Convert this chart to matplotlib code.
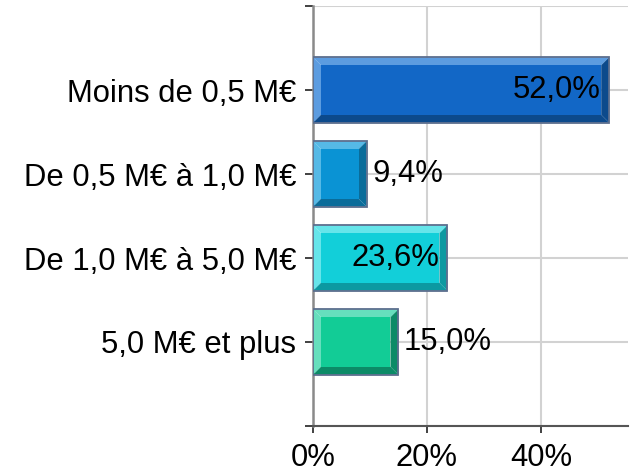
import matplotlib
matplotlib.use("Agg")
import matplotlib.pyplot as plt
from matplotlib.patches import Polygon, Rectangle

# Répartition par tranche de chiffre d'affaires
categories = ["Moins de 0,5 M€", "De 0,5 M€ à 1,0 M€", "De 1,0 M€ à 5,0 M€", "5,0 M€ et plus"]
values = [52.0, 9.4, 23.6, 15.0]
value_labels = ["52,0%", "9,4%", "23,6%", "15,0%"]
x_ticks = [0, 20, 40]
x_tick_labels = ["0%", "20%", "40%"]

face_colors = ["#1267c6", "#0a93d4", "#12cfd9", "#12cc96"]
light_colors = ["#5c9ce0", "#56b9e6", "#66e5ea", "#66dfbd"]
dark_colors = ["#0c4a8c", "#0a6c9a", "#0c99a1", "#0c8b67"]
edge_color = "#5c6e8e"

plt.rcParams["font.family"] = ["Liberation Sans", "DejaVu Sans"]
FS = 22.3

fig = plt.figure(figsize=(6.41, 4.72), dpi=100)
ax = fig.add_axes([313 / 641, 46 / 472, 315 / 641, 420 / 472])

ax.set_xlim(0, 55.3)
ax.set_ylim(4, -1)

# bevel size in pixels converted to data units
ax_w_px = 315.0
ax_h_px = 420.0
bev = 8.0
bx = bev * (55.3 / ax_w_px)
by = bev * (5.0 / ax_h_px)

bar_h = 0.78
for i, (v, fc, lc, dc) in enumerate(zip(values, face_colors, light_colors, dark_colors)):
    y0 = i - bar_h / 2
    y1 = i + bar_h / 2
    x0, x1 = 0.0, v
    # light top and left faces
    ax.add_patch(Polygon([(x0, y0), (x1, y0), (x1 - bx, y0 + by), (x0 + bx, y0 + by)],
                         closed=True, facecolor=lc, edgecolor="none", zorder=3))
    ax.add_patch(Polygon([(x0, y0), (x0 + bx, y0 + by), (x0 + bx, y1 - by), (x0, y1)],
                         closed=True, facecolor=lc, edgecolor="none", zorder=3))
    # dark bottom and right faces
    ax.add_patch(Polygon([(x0, y1), (x0 + bx, y1 - by), (x1 - bx, y1 - by), (x1, y1)],
                         closed=True, facecolor=dc, edgecolor="none", zorder=3))
    ax.add_patch(Polygon([(x1, y0), (x1, y1), (x1 - bx, y1 - by), (x1 - bx, y0 + by)],
                         closed=True, facecolor=dc, edgecolor="none", zorder=3))
    # front face
    ax.add_patch(Rectangle((x0 + bx, y0 + by), v - 2 * bx, bar_h - 2 * by,
                           facecolor=fc, edgecolor="none", zorder=3))
    # outline
    ax.add_patch(Rectangle((x0, y0), v, bar_h, facecolor="none",
                           edgecolor=edge_color, linewidth=1.3, zorder=4))

    if v > 20:
        ax.annotate(value_labels[i], xy=(v, i), xytext=(-6, 0), textcoords="offset points",
                    ha="right", va="center", fontsize=FS, color="black", zorder=5)
    else:
        ax.annotate(value_labels[i], xy=(v, i), xytext=(4, 0), textcoords="offset points",
                    ha="left", va="center", fontsize=FS, color="black", zorder=5)

ax.set_yticks(range(-1, 5))
ax.set_yticklabels([""] + categories + [""], fontsize=FS)
ax.set_xticks(x_ticks)
ax.set_xticklabels(x_tick_labels, fontsize=FS)

ax.tick_params(axis="y", length=6, width=1.3, color="#333333", pad=6)
ax.tick_params(axis="x", length=5, width=1.3, color="#333333", pad=7)

ax.grid(True, color="#d2d2d2", linewidth=1.5, zorder=0)
ax.set_axisbelow(True)

for s in ["top", "right"]:
    ax.spines[s].set_visible(False)
ax.spines["left"].set_color("#8a8a8a")
ax.spines["left"].set_linewidth(1.8)
ax.spines["bottom"].set_color("#555555")
ax.spines["bottom"].set_linewidth(1.5)

fig.savefig("out.png", dpi=100)
